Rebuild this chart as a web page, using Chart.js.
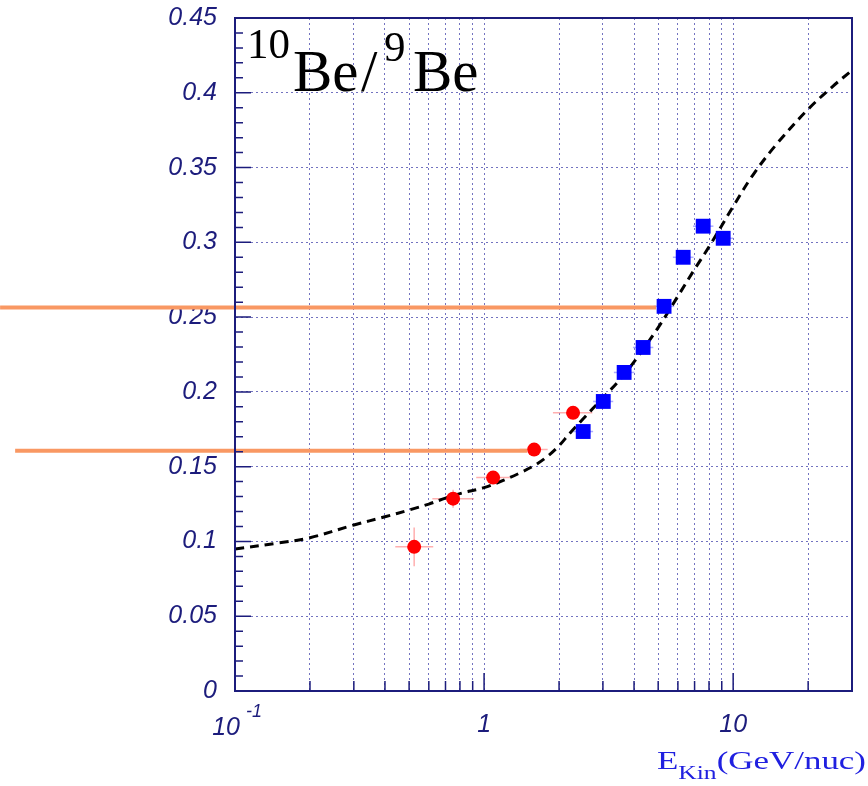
<!DOCTYPE html>
<html>
<head>
<meta charset="utf-8">
<script src="https://cdn.jsdelivr.net/npm/chart.js@4.4.1/dist/chart.umd.min.js"></script>
<style>
    html, body { margin: 0; padding: 0; background: #fff; }
    #wrap { width: 868px; height: 786px; }
</style>
</head>
<body>
<div id="wrap"><canvas id="ratio-chart" width="868" height="786"></canvas></div>
<script>
// Red circles (low energy measurements)
const redX = [0.524, 0.751, 1.087, 1.588, 2.276];
const redY = [0.0964, 0.1286, 0.1427, 0.1614, 0.186];
const redXLow = [0.44, 0.62, 0.93, 1.39, 1.89];
const redXHigh = [0.625, 0.91, 1.27, 1.80, 2.72];
const redYErr = [0.013, 0.006, 0.003, 0.003, 0.004];

// Blue squares (high energy measurements)
const blueX = [2.50, 3.01, 3.65, 4.35, 5.28, 6.30, 7.58, 9.12];
const blueY = [0.1735, 0.1936, 0.213, 0.2297, 0.2572, 0.290, 0.3108, 0.3027];
const blueXLow = [2.28, 2.74, 3.32, 3.96, 4.80, 5.73, 6.90, 8.30];
const blueXHigh = [2.74, 3.30, 4.01, 4.78, 5.80, 6.93, 8.33, 10.0];

// Model prediction (dashed curve)
const curveX = [0.1, 0.15, 0.2, 0.3, 0.4, 0.5, 0.6, 0.7, 0.8, 1.0, 1.2, 1.4, 1.6, 1.8, 2.0,
                2.2, 2.5, 3.0, 3.5, 4.0, 5.0, 6.0, 7.0, 8.0, 10, 12, 15, 20, 25, 30];
const curveY = [0.095, 0.099, 0.1025, 0.111, 0.1165, 0.121, 0.125, 0.129, 0.132, 0.136, 0.141, 0.146, 0.151, 0.157, 0.164,
                0.172, 0.182, 0.196, 0.208, 0.220, 0.243, 0.264, 0.282, 0.297, 0.324, 0.345, 0.366, 0.389, 0.404, 0.415];

// Orange guide lines (drawn out past the left axis)
const guideY = [0.2565, 0.1607];
const guideXStart = [0.0114, 0.0131];
const guideXEnd = [4.9, 1.49];

// Axis ticks
const xTickValues = [0.1, 0.2, 0.3, 0.4, 0.5, 0.6, 0.7, 0.8, 0.9, 1, 2, 3, 4, 5, 6, 7, 8, 9, 10, 20];
const xTickLabels = { 1: '1', 10: '10' };
const yTickValues = [0, 0.05, 0.1, 0.15, 0.2, 0.25, 0.3, 0.35, 0.4, 0.45];
const yTickLabels = ['0', '0.05', '0.1', '0.15', '0.2', '0.25', '0.3', '0.35', '0.4', '0.45'];

const NAVY = '#1c1c7c';
const GRID = 'rgba(100, 100, 185, 0.9)';

const toPoints = (xs, ys) => xs.map((x, i) => ({ x: x, y: ys[i] }));

// Error bars, frame, inner ticks and text that ROOT draws
const decorations = {
    id: 'decorations',

    beforeDatasetsDraw(chart) {
        const ctx = chart.ctx;
        const xs = chart.scales.x, ys = chart.scales.y;
        ctx.save();
        ctx.lineWidth = 1.5;

        ctx.strokeStyle = 'rgba(255, 110, 110, 0.55)';
        redX.forEach((x, i) => {
            const py = ys.getPixelForValue(redY[i]);
            const px = xs.getPixelForValue(x);
            ctx.beginPath();
            ctx.moveTo(xs.getPixelForValue(redXLow[i]), py);
            ctx.lineTo(xs.getPixelForValue(redXHigh[i]), py);
            ctx.moveTo(px, ys.getPixelForValue(redY[i] - redYErr[i]));
            ctx.lineTo(px, ys.getPixelForValue(redY[i] + redYErr[i]));
            ctx.stroke();
        });

        ctx.strokeStyle = 'rgba(90, 90, 255, 0.5)';
        blueX.forEach((x, i) => {
            const py = ys.getPixelForValue(blueY[i]);
            ctx.beginPath();
            ctx.moveTo(xs.getPixelForValue(blueXLow[i]), py);
            ctx.lineTo(xs.getPixelForValue(blueXHigh[i]), py);
            ctx.stroke();
        });
        ctx.restore();
    },

    afterDraw(chart) {
        const ctx = chart.ctx;
        const a = chart.chartArea;
        const xs = chart.scales.x, ys = chart.scales.y;
        ctx.save();

        // frame
        ctx.strokeStyle = NAVY;
        ctx.lineWidth = 2;
        ctx.strokeRect(a.left, a.top, a.right - a.left, a.bottom - a.top);

        // inner ticks on the y axis, every 0.01
        ctx.lineWidth = 1.5;
        ctx.beginPath();
        for (let i = 0; i <= 45; i++) {
            const py = ys.getPixelForValue(i / 100);
            ctx.moveTo(a.left, py);
            ctx.lineTo(a.left + (i % 5 === 0 ? 16 : 8), py);
        }
        // inner ticks on the x axis
        xTickValues.forEach(v => {
            const px = xs.getPixelForValue(v);
            ctx.moveTo(px, a.bottom);
            ctx.lineTo(px, a.bottom - (xTickLabels[v] ? 18 : 10));
        });
        ctx.stroke();

        // 10^-1 label at the first decade
        ctx.fillStyle = NAVY;
        ctx.textBaseline = 'alphabetic';
        const x0 = xs.getPixelForValue(0.1);
        ctx.font = 'italic 25px "Liberation Sans"';
        ctx.textAlign = 'right';
        ctx.fillText('10', x0 + 5, 735);
        ctx.font = 'italic 18px "Liberation Sans"';
        ctx.textAlign = 'left';
        ctx.fillText('-1', x0 + 11, 717);

        // title 10Be/9Be
        ctx.fillStyle = '#000';
        ctx.font = '43px "Liberation Serif"';
        ctx.fillText('10', 247, 58);
        ctx.font = '59px "Liberation Serif"';
        ctx.fillText('Be', 293, 91);
        ctx.fillText('/', 361, 91);
        ctx.font = '43px "Liberation Serif"';
        ctx.fillText('9', 384, 61);
        ctx.font = '59px "Liberation Serif"';
        ctx.fillText('Be', 413, 91);

        // axis title E_Kin(GeV/nuc), drawn wide like the original
        ctx.fillStyle = '#2020e0';
        const big = '26px "Liberation Serif"', small = '19px "Liberation Serif"';
        ctx.font = big;
        const wE = ctx.measureText('E').width;
        const wP = ctx.measureText('(GeV/nuc)').width;
        ctx.font = small;
        const wK = ctx.measureText('Kin').width;
        const sx = 209 / (wE + wK + wP);
        ctx.translate(657, 0);
        ctx.scale(sx, 1);
        ctx.font = big;
        ctx.fillText('E', 0, 769);
        ctx.font = small;
        ctx.fillText('Kin', wE, 779);
        ctx.font = big;
        ctx.fillText('(GeV/nuc)', wE + wK, 769);

        ctx.restore();
    }
};

const ctx = document.getElementById('ratio-chart');

new Chart(ctx, {
    type: 'scatter',
    data: {
        datasets: [
            {
                label: 'guide 1',
                data: [{ x: guideXStart[0], y: guideY[0] }, { x: guideXEnd[0], y: guideY[0] }],
                showLine: true,
                borderColor: '#f99863',
                borderWidth: 4,
                pointRadius: 0,
                clip: false
            },
            {
                label: 'guide 2',
                data: [{ x: guideXStart[1], y: guideY[1] }, { x: guideXEnd[1], y: guideY[1] }],
                showLine: true,
                borderColor: '#f99863',
                borderWidth: 4,
                pointRadius: 0,
                clip: false
            },
            {
                label: 'red',
                data: toPoints(redX, redY),
                pointStyle: 'circle',
                pointRadius: 7,
                backgroundColor: '#ff0000',
                borderWidth: 0
            },
            {
                label: 'blue',
                data: toPoints(blueX, blueY),
                pointStyle: 'rect',
                pointRadius: 10.5,
                backgroundColor: '#0000ff',
                borderWidth: 0
            },
            {
                label: 'model',
                data: toPoints(curveX, curveY),
                showLine: true,
                borderColor: '#000',
                borderWidth: 3,
                borderDash: [9, 6],
                tension: 0.35,
                pointRadius: 0
            }
        ]
    },
    options: {
        responsive: false,
        animation: false,
        events: [],
        layout: { autoPadding: false, padding: { top: 18, right: 16, left: 0, bottom: 0 } },
        scales: {
            x: {
                type: 'logarithmic',
                min: 0.1,
                max: 30,
                afterBuildTicks(scale) {
                    scale.ticks = xTickValues.map(v => ({ value: v }));
                },
                afterFit(scale) {
                    scale.height = 95;
                    scale.paddingLeft = 0;
                    scale.paddingRight = 0;
                },
                ticks: {
                    autoSkip: false,
                    maxRotation: 0,
                    padding: 19,
                    color: NAVY,
                    font: { family: 'Liberation Sans', size: 25, style: 'italic' },
                    callback: v => xTickLabels[v] || ''
                },
                grid: { color: GRID, lineWidth: 1, drawTicks: false },
                border: { color: NAVY, width: 2, dash: [2, 3] }
            },
            y: {
                min: 0,
                max: 0.45,
                afterBuildTicks(scale) {
                    scale.ticks = yTickValues.map(v => ({ value: v }));
                },
                afterFit(scale) {
                    scale.width = 235;
                    scale.paddingTop = 0;
                    scale.paddingBottom = 0;
                },
                ticks: {
                    padding: 18,
                    color: NAVY,
                    font: { family: 'Liberation Sans', size: 25, style: 'italic' },
                    callback: (v, i) => yTickLabels[i]
                },
                grid: { color: GRID, lineWidth: 1, drawTicks: false },
                border: { color: NAVY, width: 2, dash: [2, 3] }
            }
        },
        plugins: {
            legend: { display: false },
            tooltip: { enabled: false }
        }
    },
    plugins: [decorations]
});
</script>
</body>
</html>
